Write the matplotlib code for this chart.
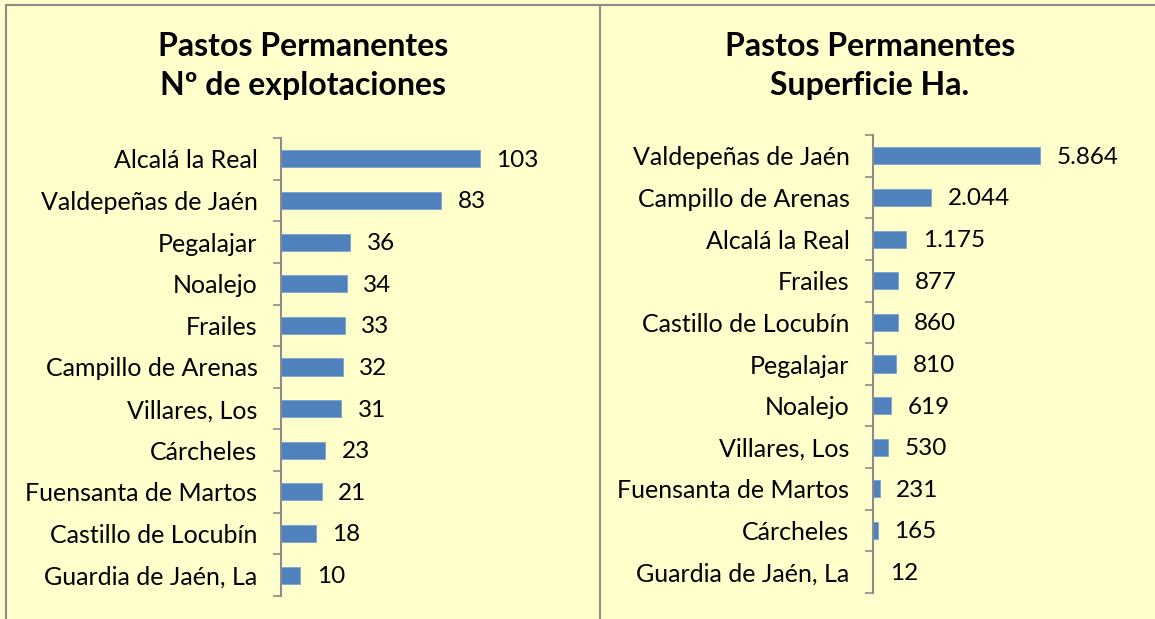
import matplotlib.pyplot as plt
import numpy as np

# Pastos permanentes por municipio
mun_explot = ['Alcalá la Real', 'Valdepeñas de Jaén', 'Pegalajar', 'Noalejo',
              'Frailes', 'Campillo de Arenas', 'Villares, Los', 'Cárcheles',
              'Fuensanta de Martos', 'Castillo de Locubín', 'Guardia de Jaén, La']
n_explot = [103, 83, 36, 34, 33, 32, 31, 23, 21, 18, 10]

mun_sup = ['Valdepeñas de Jaén', 'Campillo de Arenas', 'Alcalá la Real', 'Frailes',
           'Castillo de Locubín', 'Pegalajar', 'Noalejo', 'Villares, Los',
           'Fuensanta de Martos', 'Cárcheles', 'Guardia de Jaén, La']
sup_ha = [5864, 2044, 1175, 877, 860, 810, 619, 530, 231, 165, 12]

W, H = 1155, 619
bg = '#ffffcc'
barcol = '#4f81bd'
grey = '#8c8c8c'
font = 'Lato'

plt.rcParams['font.family'] = [font, 'DejaVu Sans']

fig = plt.figure(figsize=(W / 100, H / 100), dpi=100)
fig.patch.set_facecolor(bg)

# marco exterior y separador entre los dos graficos
fig.add_artist(plt.Line2D([6 / W, 6 / W], [0, 1 - 5 / H], color=grey, lw=1.5))
fig.add_artist(plt.Line2D([6 / W, 1], [1 - 5 / H, 1 - 5 / H], color=grey, lw=1.5))
fig.add_artist(plt.Line2D([600 / W, 600 / W], [0, 1 - 5 / H], color=grey, lw=1.5))


def fmt_miles(v):
    return f'{v:,}'.replace(',', '.')


def panel(x0, y_top, y_bot, xmax, px_per_unit, cats, vals, title, cx, miles=False):
    width = xmax * px_per_unit
    ax = fig.add_axes([x0 / W, (H - y_bot) / H, width / W, (y_bot - y_top) / H])
    ax.set_facecolor('none')
    n = len(cats)
    y = np.arange(n)
    ax.barh(y, vals, height=0.41, color=barcol, edgecolor='#7fa3cf', linewidth=0.6)
    ax.set_xlim(0, xmax)
    ax.set_ylim(n - 0.5, -0.5)
    ax.set_yticks(y)
    ax.set_yticklabels(cats, fontsize=18)
    ax.set_yticks(np.arange(n + 1) - 0.5, minor=True)
    ax.tick_params(axis='y', which='major', length=0, pad=17)
    ax.tick_params(axis='y', which='minor', length=5.5, width=1.2, color=grey)
    ax.set_xticks([])
    for s in ['top', 'right', 'bottom']:
        ax.spines[s].set_visible(False)
    ax.spines['left'].set_color(grey)
    ax.spines['left'].set_linewidth(1.5)
    for yi, v in zip(y, vals):
        txt = fmt_miles(v) if miles else str(v)
        ax.annotate(txt, (v, yi), xytext=(12, -1), textcoords='offset points',
                    va='center', ha='left', fontsize=17.5)
    fig.text(cx / W, 1 - 66 / H, title, ha='center', va='center',
             fontsize=23, fontweight='bold', linespacing=1.38)
    return ax


panel(281, 138, 596, 120, 1.93, mun_explot, n_explot,
      'Pastos Permanentes\nNº de explotaciones', 303)
panel(873, 135, 593, 7000, 0.0285, mun_sup, sup_ha,
      'Pastos Permanentes\nSuperficie Ha.', 870, miles=True)

fig.savefig('out.png', dpi=100, facecolor=bg)
